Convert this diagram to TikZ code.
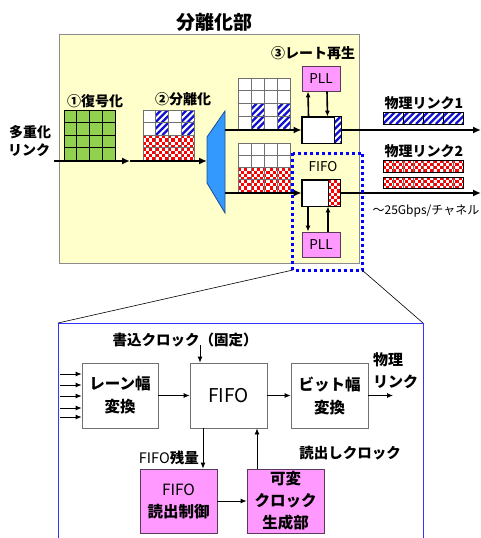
\documentclass[tikz,border=0pt]{standalone}
\usepackage{fontspec}
\setmainfont{Noto Sans CJK JP}
\usetikzlibrary{arrows.meta}
\definecolor{ybg}{HTML}{FFFFCC}
\definecolor{ybd}{HTML}{8C8C8C}
\definecolor{grn}{HTML}{92D050}
\definecolor{trap}{HTML}{3399FF}
\definecolor{trapd}{HTML}{1F4E8C}
\definecolor{pink}{HTML}{FF99FF}
\definecolor{pinkd}{HTML}{5A3A5A}
\definecolor{strb}{HTML}{1010D0}
\definecolor{chk}{HTML}{FF0000}
\definecolor{dotb}{HTML}{0000FF}
\definecolor{frameb}{HTML}{3333FF}
\definecolor{gridc}{HTML}{707070}
\newcommand\chkr[4]{%
  \begin{scope}
    \clip (#1,#2) rectangle ++(#3,#4);
    \fill[white] (#1,#2) rectangle ++(#3,#4);
    \foreach \i in {0,...,26}{\foreach \j in {0,...,8}{%
      \pgfmathtruncatemacro\pp{mod(\i+\j,2)}%
      \ifnum\pp=0 \fill[chk] ({#1+\i*3.15},{#2+\j*3.15}) rectangle ++(3.15,3.15);\fi}}
  \end{scope}}
\newcommand\strp[4]{%
  \begin{scope}
    \clip (#1,#2) rectangle ++(#3,#4);
    \fill[white] (#1,#2) rectangle ++(#3,#4);
    \foreach \k in {-4,...,16}{\draw[strb,line width=2.3pt] ({#1+\k*6.6},{#2+#4}) -- ++(#4,-#4);}
  \end{scope}}
\newcommand\cellgrid[5]{% x y w h color
  \foreach \c in {0,...,4}{\draw[#5,line width=0.8pt] ({#1+\c*#3},#2) -- ++(0,4*#4);}
  \foreach \r in {0,...,4}{\draw[#5,line width=0.8pt] (#1,{#2+\r*#4}) -- ++(4*#3,0);}}
\tikzset{
  thk/.style={line width=2.6pt,-{Latex[length=8pt,width=7pt]}},
  mid/.style={line width=1.6pt,-{Latex[length=6pt,width=5pt]}},
  thn/.style={line width=0.8pt,-{Latex[length=6pt,width=5pt]}},
  pllbox/.style={draw=pinkd,fill=pink,line width=0.8pt,minimum width=38pt,minimum height=25pt,inner sep=0pt,font=\fontsize{13.5}{14}\selectfont},
  rbox/.style={draw=black,fill=white,line width=0.8pt,minimum width=38pt,minimum height=26pt,inner sep=0pt},
  wbox/.style={draw=gridc,fill=white,line width=0.8pt,minimum width=77pt,minimum height=65pt,inner sep=0pt,align=center,font=\fontsize{15.5}{23}\selectfont\bfseries},
  pbox/.style={draw=pinkd,fill=pink,line width=0.8pt,minimum width=77pt,minimum height=64pt,inner sep=0pt,align=center,font=\fontsize{15.5}{22}\selectfont\bfseries},
  lbl/.style={inner sep=0pt,font=\fontsize{14}{16}\selectfont\bfseries},
  lbln/.style={inner sep=0pt,font=\fontsize{14.5}{16}\selectfont\bfseries},
}
\newcommand\lat[1]{{\mdseries #1}}
\begin{document}
\begin{tikzpicture}[x=1pt,y=-1pt]
\useasboundingbox (0,0) rectangle (481,538);
% title and main box
\node[inner sep=0pt,font=\fontsize{19}{20}\selectfont\bfseries] (title) at (214,22) {分離化部};
\draw[ybd,fill=ybg,line width=0.8pt] (59,34) rectangle (359,263);
% labels
\node[lbl] (l1) at (95,101) {①復号化};
\node[lbl] (l2) at (183,99) {②分離化};
\node[lbl] (l3) at (313,53) {③レート再生};
\node[lbl,anchor=west] (mux1) at (9,132) {多重化};
\node[lbl,anchor=west] (mux2) at (8,150) {リンク};
% grid 1 green
\fill[grn] (64,110) rectangle ++(51,50.4);
\cellgrid{64}{110}{12.75}{12.6}{black}
% grid 2
\strp{155.75}{110}{12.75}{25.2}
\strp{181.25}{110}{12.75}{25.2}
\fill[white] (143,110) rectangle ++(12.75,25.2);
\fill[white] (168.5,110) rectangle ++(12.75,25.2);
\chkr{143}{135.2}{51}{25.2}
\cellgrid{143}{110}{12.75}{12.6}{gridc}
% upper grid
\fill[white] (238,78) rectangle ++(52,51);
\strp{251}{103.5}{13}{25.5}
\strp{277}{103.5}{13}{25.5}
\cellgrid{238}{78}{13}{12.75}{gridc}
% lower grid
\fill[white] (238,143) rectangle ++(52,49);
\chkr{238}{167.5}{52}{24.5}
\cellgrid{238}{143}{13}{12.25}{gridc}
% trapezoid
\draw[trapd,fill=trap,line width=0.8pt] (207,137) -- (225,111) -- (225,213) -- (207,183) -- cycle;
\coordinate (tin) at (207,161);
\coordinate (tout1) at (225,130);
\coordinate (tout2) at (225,193);
\coordinate (inl) at (54,161);
\coordinate (mid1) at (130,161);
% main arrows
\draw[thk] (inl) -- (mid1);
\draw[thk] (mid1) -- (tin);
% rate boxes
\node[rbox,minimum width=39pt] (rb1) at (321.5,130) {};
\strp{334}{117}{7}{26}
\draw[black,line width=0.8pt] (rb1.north west) rectangle (rb1.south east);
\draw[black,line width=0.8pt] (334,117) -- (334,143);
\node[rbox] (rb2) at (321,193) {};
\chkr{328}{180}{12}{26}
\draw[black,line width=0.8pt] (rb2.north west) rectangle (rb2.south east);
\draw[black,line width=0.8pt] (328,180) -- (328,206);
\node[pllbox] (pll1) at (321,78.5) {PLL};
\node[pllbox] (pll2) at (321,244.5) {PLL};
\draw[thk] (tout1) -- (rb1.west);
\draw[thk] (tout2) -- (rb2.west);
\coordinate (o1) at (481,130);
\coordinate (o2) at (481,193);
\draw[thk] (rb1.east) -- (o1);
\draw[thk] (rb2.east) -- (o2);
\draw[mid] ([xshift=-13pt]rb1.north) -- ([xshift=-13pt]pll1.south);
\draw[mid] ([xshift=6pt]pll1.south) -- ([xshift=6pt]rb1.north);
\draw[mid] ([xshift=-13pt]rb2.south) -- ([xshift=-13pt]pll2.north);
\draw[mid] ([xshift=7pt]pll2.north) -- ([xshift=7pt]rb2.south);
\node[inner sep=0pt,font=\fontsize{13.5}{15}\selectfont] (fifolbl) at (323,167) {FIFO};
% physical links
\node[lbl] (pl1) at (424,103) {物理リンク1};
\node[lbl] (pl2) at (424,151) {物理リンク2};
\strp{383}{112}{80}{12}
\foreach \s in {0,...,4}{\draw[black,line width=0.7pt] ({383+\s*20},112) -- ++(0,12);}
\draw[black,line width=0.7pt] (383,112) rectangle (463,124);
\chkr{383}{160}{80}{12}
\chkr{383}{177}{80}{11}
\foreach \s in {0,...,8}{\draw[gridc,line width=0.7pt] ({383+\s*10},160) -- ++(0,12);
  \draw[gridc,line width=0.7pt] ({383+\s*10},177) -- ++(0,11);}
\draw[black,line width=0.7pt] (383,160) rectangle (463,172);
\draw[black,line width=0.7pt] (383,177) rectangle (463,188);
\node[inner sep=0pt,anchor=east,font=\fontsize{12}{14}\selectfont] (rate) at (479.5,211) {～25Gbps/チャネル};
% dotted highlight
\draw[dotb,line width=3pt,dash pattern=on 3pt off 3pt] (292.5,153) rectangle (362.5,270);
\coordinate (dl) at (293,270);
\coordinate (dr) at (362,270);
% detail frame
\coordinate (fl) at (58,323);
\coordinate (fr) at (423,323);
\draw[black,line width=0.6pt] (dl) -- (fl);
\draw[black,line width=0.6pt] (dr) -- (fr);
\draw[frameb,line width=1pt] (58,540) -- (fl) -- (fr) -- (423,540);
% bottom blocks
\node[wbox,minimum width=76pt] (lane) at (120,395.5) {レーン幅\\変換};
\node[wbox,font=\fontsize{19}{20}\selectfont] (fifo) at (228.5,395.5) {FIFO};
\node[wbox] (bit) at (329.5,395.5) {ビット幅\\変換};
\node[pbox] (ctrl) at (178.5,501) {\lat{FIFO}\\読出制御};
\node[pbox] (gen) at (285.5,501) {可変\\クロック\\生成部};
\node[lbln] (wclk) at (185,340) {書込クロック（固定）};
\node[lbln,anchor=west,align=left,font=\fontsize{15}{22}\selectfont\bfseries] (phy) at (373,371) {物理\\リンク};
\node[lbln,anchor=east] (rem) at (199,458) {\lat{FIFO}残量};
\node[lbln] (rclk) at (350,453) {読出しクロック};
\foreach \yy [count=\n] in {374,385,396,408,417}{
  \coordinate (in\n) at (60,\yy);
  \draw[thn] (in\n) -- (lane.west |- in\n);}
\draw[thn] (lane.east) -- (fifo.west);
\draw[thn] (fifo.east) -- (bit.west);
\coordinate (bout) at (393,395.5);
\draw[thn] (bit.east) -- (bout);
\coordinate (wtop) at (200,345);
\draw[thn] (wtop) -- (fifo.north -| wtop);
\draw[thn] ([xshift=-25.5pt]fifo.south) -- ([xshift=24.5pt]ctrl.north);
\draw[thn] (ctrl.east) -- (gen.west);
\draw[thn] ([xshift=-28.5pt]gen.north) -- ([xshift=28.5pt]fifo.south);
\end{tikzpicture}
\end{document}
